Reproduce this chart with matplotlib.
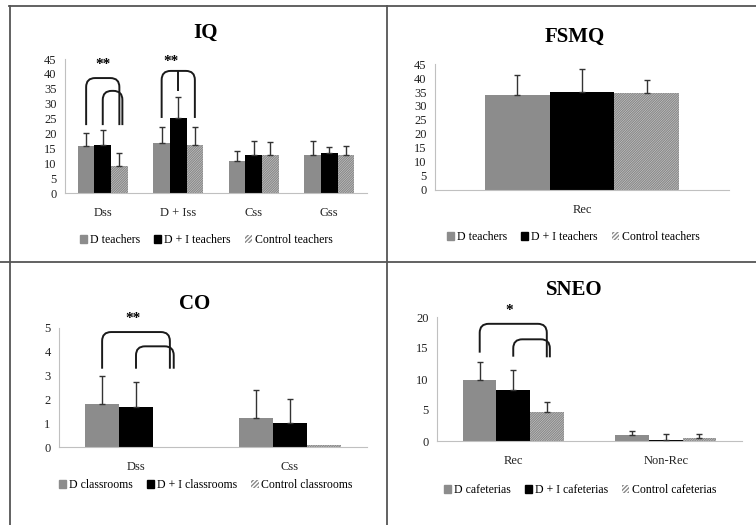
import matplotlib
matplotlib.use("Agg")
import matplotlib.pyplot as plt
from matplotlib.path import Path
from matplotlib.patches import PathPatch, Patch
from matplotlib.lines import Line2D

plt.rcParams['font.family'] = ['Liberation Serif', 'DejaVu Serif']
plt.rcParams['hatch.color'] = '#8a8a8a'
plt.rcParams['hatch.linewidth'] = 1.0

# ---- data ----
iq_cats = ['Dss', 'D + Iss', 'Css', 'Gss']
iq_d = [15.7, 16.9, 10.8, 12.9]
iq_di = [16.2, 25.2, 12.7, 13.5]
iq_ctrl = [9.0, 16.0, 12.9, 12.6]
iq_d_sd = [4.5, 5.1, 3.2, 4.7]
iq_di_sd = [4.8, 6.9, 4.9, 2.1]
iq_ctrl_sd = [4.5, 6.3, 4.1, 3.2]

fsmq_cats = ['Rec']
fsmq_d = [33.9]
fsmq_di = [34.9]
fsmq_ctrl = [34.5]
fsmq_d_sd = [7.3]
fsmq_di_sd = [8.3]
fsmq_ctrl_sd = [4.9]

co_cats = ['Dss', 'Css']
co_d = [1.8, 1.2]
co_di = [1.7, 1.0]
co_ctrl = [0.0, 0.07]
co_d_sd = [1.2, 1.2]
co_di_sd = [1.02, 1.02]
co_ctrl_sd = [0.0, 0.0]

sneo_cats = ['Rec', 'Non-Rec']
sneo_d = [9.8, 0.95]
sneo_di = [8.3, 0.2]
sneo_ctrl = [4.6, 0.45]
sneo_d_sd = [2.95, 0.65]
sneo_di_sd = [3.2, 0.85]
sneo_ctrl_sd = [1.7, 0.65]

W, H = 756, 525
fig = plt.figure(figsize=(W / 100, H / 100), dpi=100)

GRAY = '#8c8c8c'
HATCH = '//////////////'
BW = 0.22


def add_ax(left, right, bottom, top):
    # pixel box -> figure fraction
    return fig.add_axes([left / W, (H - bottom) / H, (right - left) / W, (bottom - top) / H])


def panel(ax, cats, d, di, ctrl, d_sd, di_sd, ctrl_sd, ymax, step):
    x = list(range(len(cats)))
    series = [(d, d_sd, dict(color=GRAY)),
              (di, di_sd, dict(color='black')),
              (ctrl, ctrl_sd, dict(facecolor='white', edgecolor='#8a8a8a', hatch=HATCH, linewidth=0))]
    for k, (vals, sd, style) in enumerate(series):
        xs = [i + (k - 1) * BW for i in x]
        ax.bar(xs, vals, BW, zorder=2, **style)
        for xi, v, s in zip(xs, vals, sd):
            if s > 0:
                ax.errorbar(xi, v, yerr=[[0], [s]], fmt='none', ecolor='#333333',
                            elinewidth=1, capsize=2.5, capthick=1, zorder=3)
    ax.set_xlim(-0.5, len(cats) - 0.5)
    ax.set_ylim(0, ymax)
    ax.set_yticks(range(0, ymax + 1, step))
    ax.set_xticks(x)
    ax.set_xticklabels(cats)
    for s in ['top', 'right']:
        ax.spines[s].set_visible(False)
    for s in ['left', 'bottom']:
        ax.spines[s].set_color('#c0c0c0')
    ax.tick_params(axis='both', length=0, labelsize=9, colors='#222222')
    ax.tick_params(axis='x', pad=10)
    ax.tick_params(axis='y', pad=6)


def bracket(ax, x0, x1, yb0, ytop, yb1=None, r=9):
    if yb1 is None:
        yb1 = yb0
    pos = ax.get_position()
    x_lo, x_hi = ax.get_xlim()
    y_lo, y_hi = ax.get_ylim()
    rx = r * (x_hi - x_lo) / (pos.width * W)
    ry = r * (y_hi - y_lo) / (pos.height * H)
    verts = [(x0, yb0), (x0, ytop - ry), (x0, ytop), (x0 + rx, ytop),
             (x1 - rx, ytop), (x1, ytop), (x1, ytop - ry), (x1, yb1)]
    codes = [Path.MOVETO, Path.LINETO, Path.CURVE3, Path.CURVE3,
             Path.LINETO, Path.CURVE3, Path.CURVE3, Path.LINETO]
    ax.add_patch(PathPatch(Path(verts, codes), fill=False, edgecolor='#1a1a1a',
                           linewidth=1.4, clip_on=False, zorder=4))


def legend(labels, cx, cy):
    handles = [Patch(color=GRAY),
               Patch(color='black'),
               Patch(facecolor='white', edgecolor='#8a8a8a', hatch='////////', linewidth=0)]
    fig.legend(handles, labels, loc='center', bbox_to_anchor=(cx / W, (H - cy) / H),
               ncol=3, frameon=False, fontsize=8.5, handlelength=0.6, handleheight=0.6,
               handletextpad=0.25, columnspacing=1.2)


# IQ
ax1 = add_ax(65, 367, 193, 59)
panel(ax1, iq_cats, iq_d, iq_di, iq_ctrl, iq_d_sd, iq_di_sd, iq_ctrl_sd, 45, 5)
bracket(ax1, -BW, BW, 22.8, 38.6)
bracket(ax1, 0, BW + 0.04, 22.8, 34.3)
ax1.text(0, 43, '**', ha='center', va='center', fontsize=11, fontweight='bold')
bracket(ax1, 1 - BW, 1 + BW, 25.2, 41.0)
ax1.plot([1, 1], [41.0, 34.6], color='#1a1a1a', lw=1.4, zorder=4)
ax1.text(0.9, 44.3, '**', ha='center', va='center', fontsize=11, fontweight='bold')
fig.text(205 / W, 1 - 33 / H, 'IQ', ha='center', va='center', fontsize=15, fontweight='bold')
legend(['D teachers', 'D + I teachers', 'Control teachers'], 206, 240)

# FSMQ
ax2 = add_ax(435, 729, 190, 64)
panel(ax2, fsmq_cats, fsmq_d, fsmq_di, fsmq_ctrl, fsmq_d_sd, fsmq_di_sd, fsmq_ctrl_sd, 45, 5)
fig.text(575 / W, 1 - 37 / H, 'FSMQ', ha='center', va='center', fontsize=15, fontweight='bold')
legend(['D teachers', 'D + I teachers', 'Control teachers'], 573, 237)

# CO
ax3 = add_ax(59, 367, 447, 328)
panel(ax3, co_cats, co_d, co_di, co_ctrl, co_d_sd, co_di_sd, co_ctrl_sd, 5, 1)
bracket(ax3, -BW, BW, 3.29, 4.83)
bracket(ax3, 0, BW + 0.025, 3.29, 4.23)
ax3.text(-0.02, 5.42, '**', ha='center', va='center', fontsize=11, fontweight='bold')
fig.text(195 / W, 1 - 304 / H, 'CO', ha='center', va='center', fontsize=15, fontweight='bold')
legend(['D classrooms', 'D + I classrooms', 'Control classrooms'], 206, 485)

# SNEO
ax4 = add_ax(437, 742, 441, 317)
panel(ax4, sneo_cats, sneo_d, sneo_di, sneo_ctrl, sneo_d_sd, sneo_di_sd, sneo_ctrl_sd, 20, 5)
bracket(ax4, -BW, BW, 14.25, 18.9, 13.5)
bracket(ax4, 0, BW + 0.02, 13.6, 16.4, 13.5)
ax4.text(-0.03, 21.0, '*', ha='center', va='center', fontsize=11, fontweight='bold')
fig.text(574 / W, 1 - 290 / H, 'SNEO', ha='center', va='center', fontsize=15, fontweight='bold')
legend(['D cafeterias', 'D + I cafeterias', 'Control cafeterias'], 580, 490)

# panel border lines
line_kw = dict(color='#555555', linewidth=1.3, transform=fig.transFigure)
fig.add_artist(Line2D([9 / W, 1], [1 - 6 / H, 1 - 6 / H], **line_kw))
fig.add_artist(Line2D([9.5 / W, 9.5 / W], [1 - 6 / H, 0], **line_kw))
fig.add_artist(Line2D([387 / W, 387 / W], [1 - 6 / H, 0], **line_kw))
fig.add_artist(Line2D([0, 1], [1 - 262 / H, 1 - 262 / H], **line_kw))

fig.savefig('out.png', dpi=100)
